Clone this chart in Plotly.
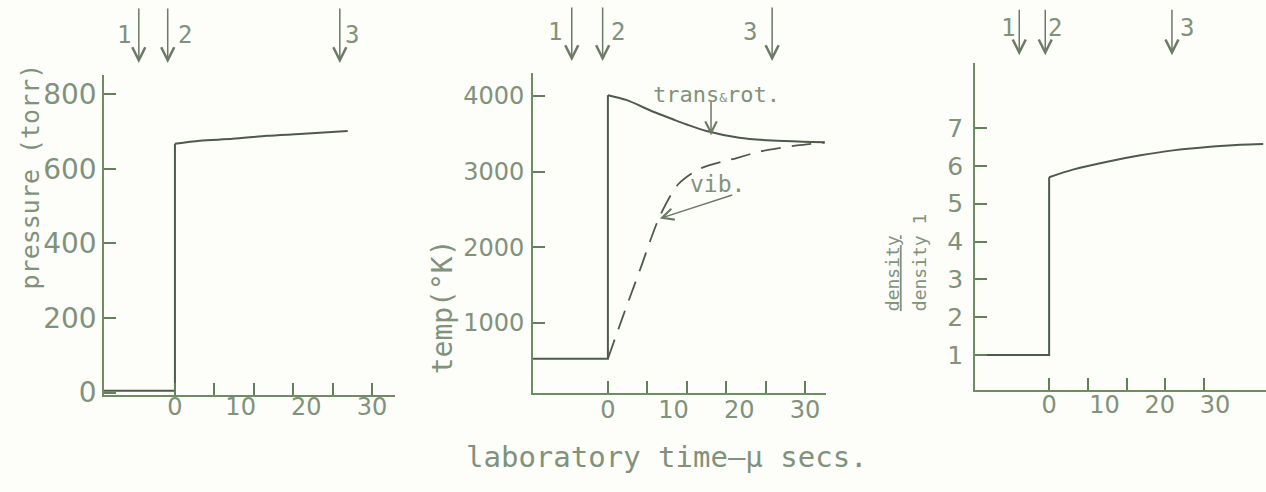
import plotly.graph_objects as go

# ---------------- data ----------------
# Panel 1: pressure (torr) vs laboratory time (micro-seconds)
p_step_time = [-10.8, 0, 0]
p_step_vals = [5, 5, 667]
p_curve_time = [0, 3.8, 8.8, 14, 19, 26.3]
p_curve_vals = [667, 675, 680, 688, 693, 701]

# Panel 2: temperature (K)
t_step_time = [-11.4, 0, 0]
t_step_vals = [525, 525, 4010]
t_tr_time = [0, 2.9, 6.8, 9.9, 12, 15, 20, 25, 29.7, 33]
t_tr_vals = [4010, 3945, 3795, 3692, 3624, 3538, 3449, 3410, 3395, 3390]
t_vib_time = [0, 2.1, 4.9, 7.9, 10.7, 14, 19.6, 23.4, 28.8, 33]
t_vib_vals = [525, 1040, 1705, 2410, 2833, 3038, 3180, 3270, 3346, 3385]

# Panel 3: density ratio
d_step_time = [-13.4, 0, 0]
d_step_vals = [1.0, 1.0, 5.70]
d_curve_time = [0, 4.3, 10.5, 16.5, 22.4, 28.6, 34.5, 38.7]
d_curve_vals = [5.70, 5.90, 6.11, 6.28, 6.41, 6.50, 6.56, 6.58]

# station arrows 1, 2, 3 (laboratory time)
station_labels = ["1", "2", "3"]
station_p = [-5.5, -1.1, 25.1]
station_t = [-5.5, -0.8, 25.0]
station_d = [-5.4, -0.7, 22.2]

x_tick_labels = [0, 10, 20, 30]
p_ticks = [0, 200, 400, 600, 800]
t_ticks = [1000, 2000, 3000, 4000]
d_ticks = [1, 2, 3, 4, 5, 6, 7]

# ---------------- styling ----------------
W, H = 1266, 492
TXT = "#80927a"
AX = "#6f8c63"
TK = "#62805a"
LN = "#4f594c"
ARW = "#6c7a66"
NUMF = "DejaVu Sans"
WORDF = "DejaVu Sans Mono"


def px_x(p):
    return p / W


def px_y(p):
    return 1 - p / H


fig = go.Figure()

line = dict(color=LN, width=2)
fig.add_trace(go.Scatter(x=p_step_time, y=p_step_vals, mode="lines", line=line, xaxis="x", yaxis="y"))
fig.add_trace(go.Scatter(x=p_curve_time, y=p_curve_vals, mode="lines", line=dict(line, shape="spline", smoothing=0.8), xaxis="x", yaxis="y"))
fig.add_trace(go.Scatter(x=t_step_time, y=t_step_vals, mode="lines", line=line, xaxis="x2", yaxis="y2"))
fig.add_trace(go.Scatter(x=t_tr_time, y=t_tr_vals, mode="lines", line=dict(line, shape="spline", smoothing=0.8), xaxis="x2", yaxis="y2"))
fig.add_trace(go.Scatter(x=t_vib_time, y=t_vib_vals, mode="lines", line=dict(color=LN, width=1.8, dash="20px,11px", shape="spline", smoothing=0.8), xaxis="x2", yaxis="y2"))
fig.add_trace(go.Scatter(x=d_step_time, y=d_step_vals, mode="lines", line=line, xaxis="x3", yaxis="y3"))
fig.add_trace(go.Scatter(x=d_curve_time, y=d_curve_vals, mode="lines", line=dict(line, shape="spline", smoothing=0.8), xaxis="x3", yaxis="y3"))
# invisible traces so overlay label axes are drawn
fig.add_trace(go.Scatter(x=[0], y=[0], mode="lines", showlegend=False, hoverinfo="skip", xaxis="x4", yaxis="y", opacity=0))
fig.add_trace(go.Scatter(x=[0], y=[1000], mode="lines", showlegend=False, hoverinfo="skip", xaxis="x5", yaxis="y2", opacity=0))
fig.add_trace(go.Scatter(x=[0], y=[1], mode="lines", showlegend=False, hoverinfo="skip", xaxis="x6", yaxis="y3", opacity=0))

panels = [
    dict(xd=(104, 395), yd=(407, 77), xr=(-10.8, 33.5), yr=(-5.2, 852), marks=[0, 6, 12, 18, 24, 30],
         yt=p_ticks, so=0, fs=28, lab_y=400),
    dict(xd=(533, 826), yd=(405, 75), xr=(-11.4, 33.2), yr=(77, 4308), marks=[0, 6, 12, 18, 24, 30],
         yt=t_ticks, so=2, fs=24, lab_y=403),
    dict(xd=(975, 1266), yd=(402, 65), xr=(-13.4, 39.2), yr=(0.08, 8.72), marks=[0, 7, 14, 21, 28],
         yt=d_ticks, so=5, fs=25, lab_y=398),
]

lay = dict(
    width=W, height=H, margin=dict(l=0, r=0, t=0, b=0),
    paper_bgcolor="#fdfdfa", plot_bgcolor="#fdfdfa", showlegend=False,
    font=dict(family=NUMF, color=TXT, size=24),
)
for i, pn in enumerate(panels):
    n = i + 1
    xs = "" if n == 1 else str(n)
    xdom = [px_x(pn["xd"][0]), px_x(pn["xd"][1])]
    ydom = [px_y(pn["yd"][0]), px_y(pn["yd"][1])]
    lay["xaxis" + xs] = dict(
        domain=xdom, range=list(pn["xr"]), anchor="y" + xs, showgrid=False, zeroline=False,
        showline=True, linecolor=AX, linewidth=1.6,
        tickmode="array", tickvals=pn["marks"], ticks="inside", ticklen=12, tickwidth=1.5, tickcolor=TK,
        showticklabels=False,
    )
    lay["yaxis" + xs] = dict(
        domain=ydom, range=list(pn["yr"]), anchor="x" + xs, showgrid=False, zeroline=False,
        showline=True, linecolor=AX, linewidth=1.6,
        tickmode="array", tickvals=pn["yt"], ticks="inside", ticklen=12, tickwidth=1.5, tickcolor=TK,
        tickfont=dict(family=NUMF, size=pn["fs"], color=TXT), ticklabelstandoff=pn["so"],
    )
    lay["xaxis" + str(n + 3)] = dict(
        domain=xdom, range=list(pn["xr"]), anchor="free", position=px_y(pn["lab_y"]),
        overlaying="x" + xs, side="bottom",
        showgrid=False, zeroline=False, showline=False, ticks="",
        tickmode="array", tickvals=x_tick_labels,
        tickfont=dict(family=NUMF, size=24, color=TXT), ticklabelstandoff=2,
    )

annotations = []
stations = [(station_p, "x", 65, 56, [-15, 17, 12], 36),
            (station_t, "x2", 63, 55, [-17, 15, -22], 33),
            (station_d, "x3", 57, 47, [-11, 10, 15], 29)]
for times, xr, tip, length, offs, ly in stations:
    for t, lab, off in zip(times, station_labels, offs):
        annotations.append(dict(xref=xr, yref="paper", x=t, y=px_y(tip), ax=0, ay=-length,
                                text="", showarrow=True, arrowhead=5, arrowsize=1.7,
                                arrowwidth=1.5, arrowcolor=ARW, standoff=0))
        annotations.append(dict(xref=xr, yref="paper", x=t, y=px_y(ly), xshift=off, text=lab,
                                xanchor="center", yanchor="middle",
                                showarrow=False, font=dict(family=WORDF, size=24, color=TXT)))

# curve labels
annotations.append(dict(xref="x2", yref="y2", x=15.7, y=3480, ax=0, ay=-36, text="", showarrow=True,
                        arrowhead=5, arrowsize=1.5, arrowwidth=1.5, arrowcolor=ARW, standoff=0))
annotations.append(dict(xref="paper", yref="paper", x=px_x(716), y=px_y(97), xanchor="center", yanchor="middle",
                        text="trans<span style='font-size:13px'>&amp;</span>rot.", showarrow=False,
                        font=dict(family=WORDF, size=22, color=TXT)))
annotations.append(dict(xref="x2", yref="y2", x=7.9, y=2380, ax=74, ay=-24, text="", showarrow=True,
                        arrowhead=5, arrowsize=1.5, arrowwidth=1.5, arrowcolor=ARW, standoff=0))
annotations.append(dict(xref="paper", yref="paper", x=px_x(717), y=px_y(190), xanchor="center", yanchor="middle",
                        text="vib.", showarrow=False, font=dict(family=WORDF, size=23, color=TXT)))

# axis titles
annotations.append(dict(xref="paper", yref="paper", x=px_x(30), y=px_y(182), xanchor="center", yanchor="middle",
                        text="pressure (torr)", textangle=-90, showarrow=False,
                        font=dict(family=WORDF, size=25, color=TXT)))
annotations.append(dict(xref="paper", yref="paper", x=px_x(442), y=px_y(317), xanchor="center", yanchor="middle",
                        text="temp(°K)", textangle=-90, showarrow=False,
                        font=dict(family=WORDF, size=28, color=TXT)))
annotations.append(dict(xref="paper", yref="paper", x=px_x(892), y=px_y(323), xanchor="center", yanchor="bottom",
                        text="<u>density</u>", textangle=-90, showarrow=False,
                        font=dict(family=WORDF, size=18, color=TXT)))
annotations.append(dict(xref="paper", yref="paper", x=px_x(919), y=px_y(323), xanchor="center", yanchor="bottom",
                        text="density 1", textangle=-90, showarrow=False,
                        font=dict(family=WORDF, size=18, color=TXT)))
annotations.append(dict(xref="paper", yref="paper", x=px_x(667), y=px_y(471), xanchor="center", yanchor="middle",
                        text="laboratory time—μ secs.", showarrow=False,
                        font=dict(family=WORDF, size=29, color=TXT)))

lay["annotations"] = annotations
fig.update_layout(**lay)
fig.write_html("out.html")
